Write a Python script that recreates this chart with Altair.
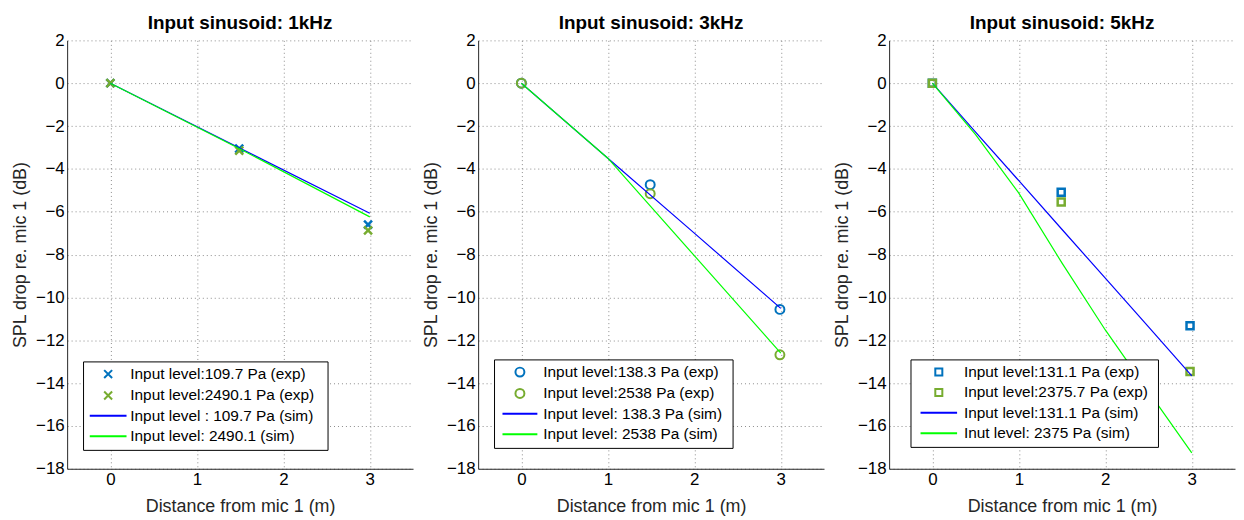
import altair as alt
import pandas as pd

FONT = "Liberation Sans"
EXP_COLORS = ["#0072BD", "#77AC30"]
SIM_COLORS = ["#0000FF", "#00FF00"]

TITLES = ["Input sinusoid: 1kHz", "Input sinusoid: 3kHz", "Input sinusoid: 5kHz"]
X_LABEL = "Distance from mic 1 (m)"
Y_LABEL = "SPL drop re. mic 1 (dB)"
X_TICKS = [0, 1, 2, 3]
Y_TICKS = [-18, -16, -14, -12, -10, -8, -6, -4, -2, 0, 2]

# ---- 1 kHz ----
k1_exp_x = [0, 1.49, 2.98]
k1_exp_low = [0, -3.05, -6.6]
k1_exp_high = [0, -3.15, -6.87]
k1_sim_x = [0, 1.5, 3]
k1_sim_low = [0, -3.04, -6.07]
k1_sim_high = [0, -3.07, -6.24]
k1_names = ["Input level:109.7 Pa (exp)", "Input level:2490.1 Pa (exp)",
            "Input level : 109.7 Pa (sim)", "Input level: 2490.1 (sim)"]

# ---- 3 kHz ----
k3_exp_x = [0, 1.49, 2.99]
k3_exp_low = [0, -4.74, -10.56]
k3_exp_high = [0, -5.16, -12.68]
k3_sim_x = [0, 1, 2, 3]
k3_sim_low = [0, -3.5, -7.0, -10.51]
k3_sim_high = [0, -3.5, -8.05, -12.6]
k3_names = ["Input level:138.3 Pa (exp)", "Input level:2538 Pa (exp)",
            "Input level: 138.3 Pa (sim)", "Input level: 2538 Pa (sim)"]

# ---- 5 kHz ----
k5_exp_x = [0, 1.49, 2.98]
k5_exp_low = [0, -5.09, -11.32]
k5_exp_high = [0, -5.55, -13.46]
k5_sim_x = [0, 0.5, 1, 1.5, 2, 2.5, 3]
k5_sim_low = [0, -2.28, -4.55, -6.83, -9.1, -11.38, -13.66]
k5_sim_high = [0, -2.4, -5.13, -8.4, -11.52, -14.4, -17.26]
k5_names = ["Input level:131.1 Pa (exp)", "Input level:2375.7 Pa (exp)",
            "Input level:131.1 Pa (sim)", "Inut level: 2375 Pa (sim)"]

CROSS = "M-1,-1L1,1M1,-1L-1,1"
W, H = 348, 431


def panel(title, exp_x, exp_lo, exp_hi, sim_x, sim_lo, sim_hi, names,
          marker, msize, mwidth, leg_x, leg_y, sym_off, lab_off, half, extra):
    exp_df = pd.DataFrame({
        "x": exp_x + exp_x,
        "y": exp_lo + exp_hi,
        "series": [names[0]] * len(exp_x) + [names[1]] * len(exp_x),
    })
    sim_df = pd.DataFrame({
        "x": sim_x + sim_x,
        "y": sim_lo + sim_hi,
        "series": [names[2]] * len(sim_x) + [names[3]] * len(sim_x),
    })
    legend_marker = CROSS if marker == "cross" else marker
    line_path = f"M-{half},0L{half},0"
    legend = alt.Legend(
        title="\u00a0", titleOrient="right", titleFontSize=15.5, titleColor="transparent",
        titlePadding=extra,
        orient="none", legendX=leg_x, legendY=leg_y,
        fillColor="white", strokeColor="black", padding=5, cornerRadius=0,
        labelFont=FONT, labelFontSize=15.5, labelColor="black", labelLimit=0,
        symbolOffset=sym_off, labelOffset=lab_off, rowPadding=3.5,
        symbolSize=msize, symbolStrokeWidth=2,
        symbolType={"expr": f"indexof(datum.value, '(exp)') >= 0 ? '{legend_marker}' : '{line_path}'"},
    )
    color = alt.Color("series:N",
                      scale=alt.Scale(domain=names, range=EXP_COLORS + SIM_COLORS),
                      legend=legend)
    xenc = alt.X("x:Q", scale=alt.Scale(domain=[-0.5, 3.5], nice=False, zero=False),
                 axis=alt.Axis(values=X_TICKS, format="d", title=X_LABEL,
                               labelPadding=2.5, titlePadding=11))
    yenc = alt.Y("y:Q", scale=alt.Scale(domain=[-18, 2], nice=False, zero=False),
                 axis=alt.Axis(values=Y_TICKS, format="d", title=Y_LABEL,
                               labelPadding=3, titlePadding=6))
    shape = CROSS if marker == "cross" else marker
    pts = alt.Chart(exp_df).mark_point(filled=False, opacity=1, shape=shape, size=msize).encode(
        x=xenc, y=yenc, color=color, strokeWidth=alt.value(mwidth))
    lines = alt.Chart(sim_df).mark_line(opacity=1).encode(
        x=xenc, y=yenc, color=color, strokeWidth=alt.value(1.2))
    return alt.layer(pts, lines).properties(
        width=W, height=H,
        title=alt.Title(title, frame="group", anchor="middle"),
    )


p1 = panel(TITLES[0], k1_exp_x, k1_exp_low, k1_exp_high, k1_sim_x, k1_sim_low, k1_sim_high,
           k1_names, "cross", 64, 2.5, 16, 323, 12.5, 14.5, 4.625, 8)
p2 = panel(TITLES[1], k3_exp_x, k3_exp_low, k3_exp_high, k3_sim_x, k3_sim_low, k3_sim_high,
           k3_names, "circle", 81, 2, 16, 321, 13.3, 15.7, 3.9, 4.7)
p3 = panel(TITLES[2], k5_exp_x, k5_exp_low, k5_exp_high, k5_sim_x, k5_sim_low, k5_sim_high,
           k5_names, "square", 50, 2.5, 21.5, 321, 15.75, 17.5, 5.2, 5)

chart = alt.hconcat(p1, p2, p3, spacing=65.5, bounds="flush").resolve_scale(
    color="independent"
).configure(
    padding={"left": 2.5, "top": 4, "right": 0, "bottom": 4},
    font=FONT,
).configure_view(
    stroke="transparent"
).configure_axis(
    labelFont=FONT, labelFontSize=17, labelColor="#000000",
    titleFont=FONT, titleFontSize=18, titleFontWeight="normal", titleColor="#262626",
    domainColor="#262626", domainWidth=1,
    ticks=False, tickSize=0,
    grid=True, gridColor="#8c8c8c", gridDash=[1, 3], gridWidth=1,
    labelFlush=False,
).configure_title(
    font=FONT, fontSize=19, fontWeight="bold", color="#000000",
    offset=-1.5, baseline="alphabetic",
)

chart.save("out.html", embed_options={"renderer": "svg", "actions": False})
